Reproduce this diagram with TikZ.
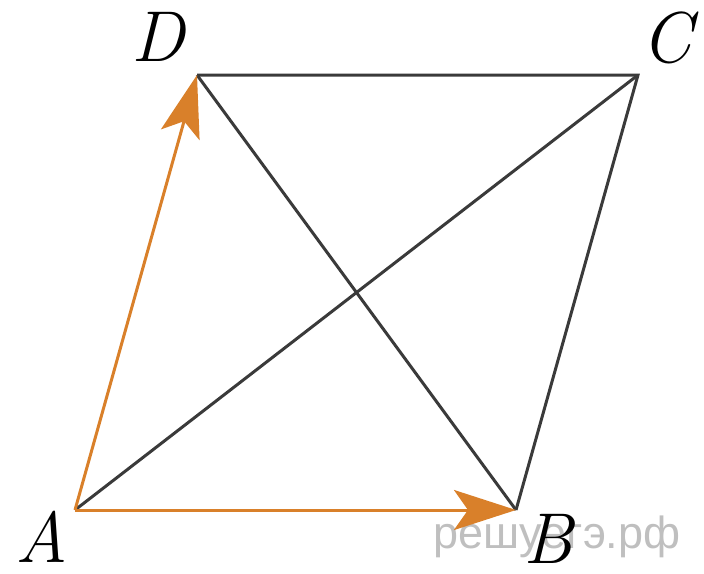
\documentclass[tikz,border=0pt]{standalone}
\usepackage{fontspec}
\newfontfamily\wmfont{Liberation Sans}
\usepackage{xcolor}
\usetikzlibrary{arrows.meta}
\definecolor{vecorange}{HTML}{D9802A}
\definecolor{edgegray}{HTML}{3A3A3A}

\begin{document}
\begin{tikzpicture}[x=1pt,y=-1pt,
  edge/.style={draw=edgegray,line width=3pt},
  vec/.style={draw=vecorange,line width=3pt,
    -{Stealth[length=62pt,width=40pt,inset=14pt,fill=vecorange]}},
  lbl/.style={font=\fontsize{72}{78}\selectfont\itshape,inner sep=0pt},
  wmark/.style={font=\wmfont\fontsize{45}{48}\selectfont,text=black!25,inner sep=0pt}]
\useasboundingbox (0,0) rectangle (704,573);
\coordinate (A) at (75,510);
\coordinate (B) at (516,510);
\coordinate (C) at (638,75);
\coordinate (D) at (197,75);
\node[wmark] (wm) at (557,537) {решуегэ.рф};
\draw[edge] (D)--(C)--(B);
\draw[edge] (A)--(C);
\draw[edge] (D)--(B);
\draw[vec] (A)--(B);
\draw[vec] (A)--(D);
\node[lbl] (la) at (42,537) {A};
\node[lbl] (lb) at (548,539) {B};
\node[lbl] (lc) at (667,38) {C};
\node[lbl] (ld) at (158,37) {D};
\end{tikzpicture}
\end{document}
